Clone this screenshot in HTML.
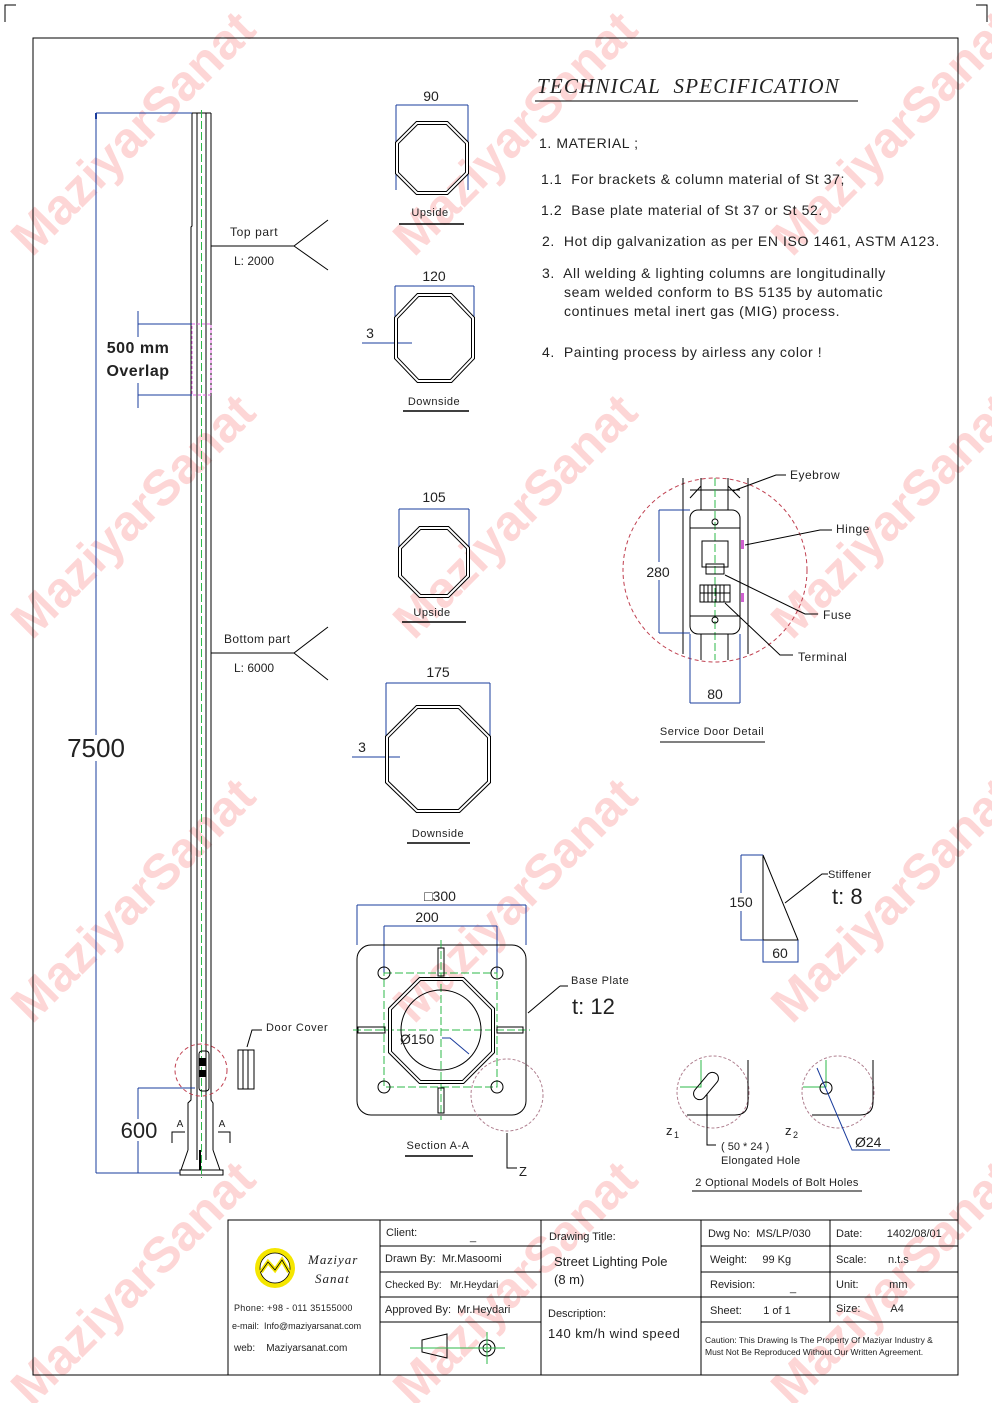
<!DOCTYPE html>
<html><head><meta charset="utf-8"><style>
html,body{margin:0;padding:0;background:#fff}
svg{display:block}
text{font-family:"Liberation Sans",sans-serif;fill:#222;white-space:pre}
.wm{font-family:"Liberation Sans",sans-serif;font-weight:bold;font-size:50px;fill:#fdd6d6}
.s{font-size:14px;letter-spacing:0.6px}
.b{stroke:#000;fill:none;stroke-width:1}
.dim{stroke:#1a3c9c;fill:none;stroke-width:1}
.g{stroke:#2db84a;fill:none;stroke-width:1;stroke-dasharray:8 3}
.rd{stroke:#c04050;fill:none;stroke-width:1;stroke-dasharray:4 3}
.pk{stroke:#b08090;fill:none;stroke-width:1;stroke-dasharray:3 2}
.oct{fill:none;stroke:#000;stroke-width:4}
.octw{fill:none;stroke:#fff;stroke-width:2}
</style></head><body>
<svg width="992" height="1403" viewBox="0 0 992 1403" xmlns="http://www.w3.org/2000/svg">
<g>
<text class="wm" transform="translate(145,145) rotate(-45)" text-anchor="middle">MaziyarSanat</text>
<text class="wm" transform="translate(527,145) rotate(-45)" text-anchor="middle">MaziyarSanat</text>
<text class="wm" transform="translate(905,145) rotate(-45)" text-anchor="middle">MaziyarSanat</text>
<text class="wm" transform="translate(145,528) rotate(-45)" text-anchor="middle">MaziyarSanat</text>
<text class="wm" transform="translate(527,528) rotate(-45)" text-anchor="middle">MaziyarSanat</text>
<text class="wm" transform="translate(905,528) rotate(-45)" text-anchor="middle">MaziyarSanat</text>
<text class="wm" transform="translate(145,912) rotate(-45)" text-anchor="middle">MaziyarSanat</text>
<text class="wm" transform="translate(527,912) rotate(-45)" text-anchor="middle">MaziyarSanat</text>
<text class="wm" transform="translate(905,912) rotate(-45)" text-anchor="middle">MaziyarSanat</text>
<text class="wm" transform="translate(145,1295) rotate(-45)" text-anchor="middle">MaziyarSanat</text>
<text class="wm" transform="translate(527,1295) rotate(-45)" text-anchor="middle">MaziyarSanat</text>
<text class="wm" transform="translate(905,1295) rotate(-45)" text-anchor="middle">MaziyarSanat</text>
</g>
<path class="b" d="M16 5 H5 V22 M976 5 H987 V22"/>
<rect x="33" y="38" width="925" height="1337" class="b" stroke-width="1.2"/>

<!-- pole -->
<g class="b">
<path d="M192 113 V226 L191 227 V1100 L188 1103 V1150 M211 113 V1100 L213 1103 V1150"/>
<path d="M197 113 V1160 M206 113 V1160"/>
<path d="M192 113 H211"/>
<path d="M188 1150 L181 1170 M213 1150 L220 1170"/>
<rect x="180" y="1170" width="43" height="5"/>
</g>
<line x1="201.5" y1="110" x2="201.5" y2="1178" class="g" stroke-dasharray="10 3"/>
<rect x="192" y="324" width="19" height="71" fill="none" stroke="#e060e0" stroke-dasharray="3 2"/>
<rect x="199" y="1051" width="10" height="40" rx="3" class="b"/>
<rect x="199" y="1058" width="7" height="8" fill="#000"/>
<rect x="199" y="1070" width="7" height="7" fill="#000"/>
<circle cx="201" cy="1070" r="26" class="rd"/>
<line x1="200" y1="1150" x2="200" y2="1170" stroke="#000" stroke-width="2"/>

<path class="dim" d="M96 113 H192 M96 113 V1173 M96 1173 H180"/>
<rect x="95" y="113" width="2" height="6" fill="#1a3c9c"/>
<rect x="66" y="735" width="60" height="26" fill="#fff"/>
<text x="96" y="757" font-size="26" text-anchor="middle">7500</text>
<path class="dim" d="M138 311 V337 M138 324 H192 M138 383 V408 M138 395 H192"/>
<text x="138" y="353" font-size="16" font-weight="bold" text-anchor="middle" letter-spacing="0.5">500 mm</text>
<text x="138" y="376" font-size="16" font-weight="bold" text-anchor="middle" letter-spacing="0.5">Overlap</text>
<path class="b" d="M211 246 H294 L328 220 M294 246 L328 270"/>
<text x="230" y="236" font-size="12" letter-spacing="0.6">Top part</text>
<text x="234" y="265" font-size="12">L: 2000</text>
<path class="b" d="M211 653 H294 L328 627 M294 653 L328 680"/>
<text x="224" y="643" font-size="12" letter-spacing="0.4">Bottom part</text>
<text x="234" y="672" font-size="12">L: 6000</text>
<path class="dim" d="M138 1088 H195 M138 1088 V1173"/>
<rect x="118" y="1119" width="42" height="22" fill="#fff"/>
<text x="139" y="1138" font-size="22" text-anchor="middle">600</text>
<path class="b" d="M172 1143 V1132 H185 M230 1143 V1132 H218"/>
<text x="180" y="1127" font-size="10" text-anchor="middle">A</text>
<text x="222" y="1127" font-size="10" text-anchor="middle">A</text>
<rect x="238" y="1050" width="16" height="39" class="b"/>
<path class="b" d="M243 1050 V1089 M248 1050 V1089 M247 1047 L252 1030 H262"/>
<text x="266" y="1031" font-size="11" letter-spacing="0.6">Door Cover</text>

<path class="dim" d="M396 105 H468 M396 105 V190 M468 105 V190"/>
<text x="431" y="101" font-size="14" text-anchor="middle">90</text>
<polygon class="oct" points="417,123 447,123 467,143 467,173 447,193 417,193 397,173 397,143"/>
<polygon class="octw" points="417,123 447,123 467,143 467,173 447,193 417,193 397,173 397,143"/>
<text x="430" y="216" font-size="11" text-anchor="middle" letter-spacing="0.5">Upside</text>
<line x1="399" y1="224" x2="464" y2="224" stroke="#000" stroke-width="1.5"/>

<path class="dim" d="M395 286 H474 M395 286 V330 M474 286 V330 M362 343 H412"/>
<text x="434" y="281" font-size="14" text-anchor="middle">120</text>
<text x="370" y="338" font-size="14" text-anchor="middle">3</text>
<polygon class="oct" points="418,295 451,295 473,318 473,358 451,381 418,381 396,358 396,318"/>
<polygon class="octw" points="418,295 451,295 473,318 473,358 451,381 418,381 396,358 396,318"/>
<text x="434" y="405" font-size="11" text-anchor="middle" letter-spacing="0.5">Downside</text>
<line x1="403" y1="411" x2="469" y2="411" stroke="#000" stroke-width="1.5"/>

<path class="dim" d="M399 509 H469 M399 509 V560 M469 509 V560"/>
<text x="434" y="502" font-size="14" text-anchor="middle">105</text>
<polygon class="oct" points="420,528 448,528 468,548 468,576 448,596 420,596 400,576 400,548"/>
<polygon class="octw" points="420,528 448,528 468,548 468,576 448,596 420,596 400,576 400,548"/>
<text x="432" y="616" font-size="11" text-anchor="middle" letter-spacing="0.5">Upside</text>
<line x1="402" y1="622" x2="466" y2="622" stroke="#000" stroke-width="1.5"/>

<path class="dim" d="M386 683 H490 M386 683 V740 M490 683 V740 M352 757 H400"/>
<text x="438" y="677" font-size="14" text-anchor="middle">175</text>
<text x="362" y="752" font-size="14" text-anchor="middle">3</text>
<polygon class="oct" points="417,707 459,707 489,737 489,782 459,811 417,811 387,782 387,737"/>
<polygon class="octw" points="417,707 459,707 489,737 489,782 459,811 417,811 387,782 387,737"/>
<text x="438" y="837" font-size="11" text-anchor="middle" letter-spacing="0.5">Downside</text>
<line x1="407" y1="843" x2="470" y2="843" stroke="#000" stroke-width="1.5"/>

<text x="537" y="93" font-style="italic" font-size="21" letter-spacing="1.2" style="font-family:'Liberation Serif',serif">TECHNICAL  SPECIFICATION</text>
<line x1="535" y1="101" x2="858" y2="101" stroke="#000"/>
<text class="s" x="539" y="148">1. MATERIAL ;</text>
<text class="s" x="541" y="184">1.1  For brackets &amp; column material of St 37;</text>
<text class="s" x="541" y="215">1.2  Base plate material of St 37 or St 52.</text>
<text class="s" x="542" y="246">2.  Hot dip galvanization as per EN ISO 1461, ASTM A123.</text>
<text class="s" x="542" y="278">3.  All welding &amp; lighting columns are longitudinally</text>
<text class="s" x="564" y="297">seam welded conform to BS 5135 by automatic</text>
<text class="s" x="564" y="316">continues metal inert gas (MIG) process.</text>
<text class="s" x="542" y="357">4.  Painting process by airless any color !</text>

<circle cx="715" cy="570" r="92" class="rd"/>
<path class="b" d="M683 478 V654 M748 478 V654 M701 478 V510 M728 478 V510 M701 634 V660 M728 634 V660 M690 498 L701 486 M740 498 L728 486 M690 490 H740"/>
<line x1="715" y1="478" x2="715" y2="660" class="g"/>
<rect x="690" y="510" width="50" height="124" rx="8" class="b"/>
<path class="b" d="M690 528 H740 M690 616 H740"/>
<circle cx="715" cy="522" r="3" class="b"/>
<circle cx="715" cy="620" r="3" class="b"/>
<rect x="702" y="541" width="26" height="26" class="b"/>
<rect x="706" y="564" width="18" height="10" class="b"/>
<rect x="700" y="585" width="30" height="17" class="b"/>
<path class="b" d="M704 585 V602 M708 585 V602 M712 585 V602 M716 585 V602 M720 585 V602 M724 585 V602 M700 593 H730"/>
<rect x="741" y="540" width="3" height="9" fill="#d060d0"/>
<rect x="741" y="593" width="3" height="9" fill="#d060d0"/>
<path class="dim" d="M659 510 H690 M659 510 V633 M659 633 H690 M690 634 V703 M740 634 V703 M690 703 H740"/>
<rect x="645" y="562" width="28" height="18" fill="#fff"/>
<text x="658" y="577" font-size="14" text-anchor="middle">280</text>
<text x="715" y="699" font-size="14" text-anchor="middle">80</text>
<path class="b" d="M733 491 L776 475 H786 M745 545 L820 530 H832 M725 575 L805 614 H818 M725 603 L780 655 H793"/>
<text x="790" y="479" font-size="12" letter-spacing="0.5">Eyebrow</text>
<text x="836" y="533" font-size="12" letter-spacing="0.5">Hinge</text>
<text x="823" y="619" font-size="12" letter-spacing="0.5">Fuse</text>
<text x="798" y="661" font-size="12" letter-spacing="0.5">Terminal</text>
<text x="712" y="735" font-size="11" text-anchor="middle" letter-spacing="0.5">Service Door Detail</text>
<line x1="660" y1="742" x2="765" y2="742" stroke="#000"/>

<path class="dim" d="M357 905 H526 M357 905 V945 M526 905 V945 M384 926 H497 M384 926 V973 M497 926 V973"/>
<text x="440" y="901" font-size="14" text-anchor="middle">□300</text>
<text x="427" y="922" font-size="14" text-anchor="middle">200</text>
<rect x="357" y="945" width="169" height="170" rx="14" class="b"/>
<rect x="384" y="973" width="113" height="114" class="g" stroke-dasharray="6 3"/>
<path class="g" d="M353 1030 H530 M441 940 V1120"/>
<circle cx="384" cy="973" r="6" class="b"/><circle cx="497" cy="973" r="6" class="b"/>
<circle cx="384" cy="1087" r="6" class="b"/><circle cx="497" cy="1087" r="6" class="b"/>
<polygon class="oct" points="420,979 463,979 493,1009 493,1052 463,1082 420,1082 390,1052 390,1009"/>
<polygon class="octw" points="420,979 463,979 493,1009 493,1052 463,1082 420,1082 390,1052 390,1009"/>
<circle cx="441" cy="1030" r="40" class="b"/>
<rect x="438" y="948" width="6" height="28" class="b"/>
<rect x="438" y="1088" width="6" height="25" class="b"/>
<rect x="358" y="1027" width="27" height="6" class="b"/>
<rect x="497" y="1027" width="26" height="6" class="b"/>
<text x="400" y="1044" font-size="14">Ø150</text>
<path class="dim" d="M442 1038 H450 L469 1054"/>
<circle cx="507" cy="1095" r="36" class="pk"/>
<path class="b" d="M507 1133 V1168 H517 M560 986 L528 1013 M560 986 H568"/>
<text x="519" y="1176" font-size="13">Z</text>
<text x="571" y="984" font-size="11" letter-spacing="0.5">Base Plate</text>
<text x="572" y="1014" font-size="22">t: 12</text>
<text x="438" y="1149" font-size="11" text-anchor="middle" letter-spacing="0.5">Section A-A</text>
<line x1="405" y1="1156" x2="473" y2="1156" stroke="#000" stroke-width="1.5"/>

<path class="b" d="M763 855 V940 H798 L763 855"/>
<path class="dim" d="M741 855 H763 M741 855 V940 H763 M763 940 V962 H798 V940"/>
<rect x="728" y="893" width="26" height="18" fill="#fff"/>
<text x="741" y="907" font-size="14" text-anchor="middle">150</text>
<text x="780" y="958" font-size="14" text-anchor="middle">60</text>
<path class="b" d="M785 903 L822 874 H828"/>
<text x="828" y="878" font-size="11" letter-spacing="0.3">Stiffener</text>
<text x="832" y="904" font-size="22">t: 8</text>

<circle cx="713" cy="1092" r="36" class="pk"/>
<path class="b" d="M687 1115 H735 Q748 1115 748 1102 V1060"/>
<path stroke="#2db84a" fill="none" d="M680 1087 H701 V1060"/>
<rect x="690" y="1080" width="32" height="12" rx="6" transform="rotate(-50 706 1086)" class="b"/>
<path class="b" d="M707 1094 V1145 H716"/>
<text x="666" y="1135" font-size="13">z</text><text x="674" y="1138" font-size="9">1</text>
<text x="721" y="1150" font-size="11">( 50 * 24 )</text>
<text x="721" y="1164" font-size="11" letter-spacing="0.3">Elongated Hole</text>
<circle cx="838" cy="1092" r="36" class="pk"/>
<path class="b" d="M812 1115 H860 Q873 1115 873 1102 V1060"/>
<path stroke="#2db84a" fill="none" d="M803 1087 H826 V1060"/>
<circle cx="826" cy="1088" r="6" class="b"/>
<path class="dim" d="M817 1068 L852 1150 H890"/>
<text x="785" y="1135" font-size="13">z</text><text x="793" y="1138" font-size="9">2</text>
<text x="855" y="1147" font-size="14">Ø24</text>
<text x="777" y="1186" font-size="11" text-anchor="middle" letter-spacing="0.3">2 Optional Models of Bolt Holes</text>
<line x1="692" y1="1191" x2="862" y2="1191" stroke="#000"/>

<g class="b">
<rect x="228" y="1220" width="730" height="155"/>
<path d="M380 1220 V1375 M541 1220 V1375 M701 1220 V1375 M830 1220 V1322"/>
<path d="M380 1246 H541 M380 1272 H541 M380 1297 H541 M380 1322 H541"/>
<path d="M541 1297 H701"/>
<path d="M701 1246 H958 M701 1272 H958 M701 1297 H958 M701 1322 H958"/>
</g>
<circle cx="275" cy="1268" r="20" fill="#f5e600"/>
<circle cx="275" cy="1268" r="15" fill="#fff" stroke="#000" stroke-width="0.8"/>
<path d="M261 1272 L268 1262 L275 1270 L282 1260 L289 1272" fill="none" stroke="#f5e600" stroke-width="4"/>
<path d="M261 1272 L268 1262 L275 1270 L282 1260 L289 1272" fill="none" stroke="#000" stroke-width="0.8"/>
<text x="308" y="1264" font-size="13" font-style="italic" style="font-family:'Liberation Serif',serif" letter-spacing="1">Maziyar</text>
<text x="315" y="1283" font-size="13" font-style="italic" style="font-family:'Liberation Serif',serif" letter-spacing="1">Sanat</text>
<text x="234" y="1311" font-size="9" letter-spacing="0.3">Phone: +98 - 011 35155000</text>
<text x="232" y="1329" font-size="9">e-mail:  Info@maziyarsanat.com</text>
<text x="234" y="1351" font-size="10">web:    Maziyarsanat.com</text>
<g font-size="11">
<text x="386" y="1236">Client:</text><text x="470" y="1240">_</text>
<text x="385" y="1262">Drawn By:  Mr.Masoomi</text>
<text x="385" y="1288" font-size="10">Checked By:   Mr.Heydari</text>
<text x="385" y="1313">Approved By:  Mr.Heydari</text>
<text x="549" y="1240">Drawing Title:</text>
<text x="554" y="1266" font-size="13">Street Lighting Pole</text>
<text x="554" y="1284" font-size="13">(8 m)</text>
<text x="548" y="1317">Description:</text>
<text x="548" y="1338" font-size="13" letter-spacing="0.5">140 km/h wind speed</text>
<text x="708" y="1237">Dwg No:  MS/LP/030</text>
<text x="710" y="1263">Weight:     99 Kg</text>
<text x="710" y="1288">Revision:</text><text x="790" y="1291">_</text>
<text x="710" y="1314">Sheet:       1 of 1</text>
<text x="836" y="1237">Date:        1402/08/01</text>
<text x="836" y="1263">Scale:       n.t.s</text>
<text x="836" y="1288">Unit:          mm</text>
<text x="836" y="1312">Size:          A4</text>
</g>
<text x="705" y="1343" font-size="8.5">Caution: This Drawing Is The Property Of Maziyar Industry &amp;</text>
<text x="705" y="1355" font-size="8.5">Must Not Be Reproduced Without Our Written Agreement.</text>
<path class="b" d="M422 1340 L447 1334 V1358 L422 1352 Z"/>
<circle cx="487" cy="1348" r="8" class="b"/><circle cx="487" cy="1348" r="4" class="b"/>
<path stroke="#2db84a" fill="none" d="M410 1348 H505 M487 1332 V1364"/>
</svg>
</body></html>
